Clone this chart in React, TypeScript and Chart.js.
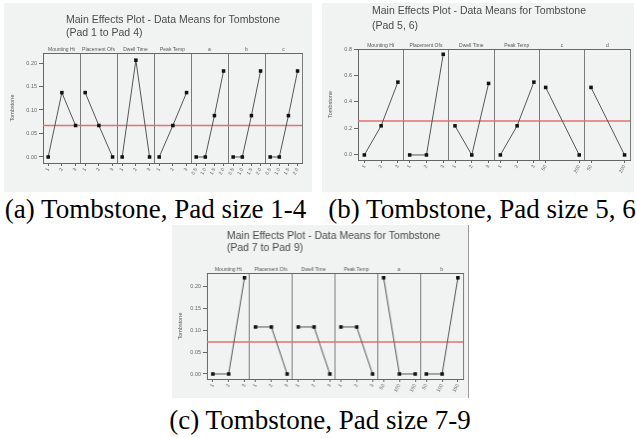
import React, { useEffect, useRef } from "react";
import { Chart, registerables } from "chart.js";

Chart.register(...registerables);

// ---- Pad 1 to Pad 4 ----
const factorsA = ["Mounting Ht", "Placement Ofs", "Dwell Time", "Peak Temp", "a", "b", "c"];
const levelsA = [
  ["1", "2", "3"],
  ["1", "2", "3"],
  ["1", "2", "3"],
  ["1", "2", "3"],
  ["0.5", "1.0", "1.5", "2.0"],
  ["0.5", "1.0", "1.5", "2.0"],
  ["0.5", "1.0", "1.5", "2.0"],
];
const meansA = [
  [0.0, 0.137, 0.067],
  [0.137, 0.067, 0.0],
  [0.0, 0.206, 0.0],
  [0.0, 0.067, 0.137],
  [0.0, 0.0, 0.088, 0.183],
  [0.0, 0.0, 0.088, 0.183],
  [0.0, 0.0, 0.088, 0.183],
];
const grandMeanA = 0.067;
const yTicksA = [0.0, 0.05, 0.1, 0.15, 0.2];

// ---- Pad 5, 6 ----
const factorsB = ["Mounting Ht", "Placement Ofs", "Dwell Time", "Peak Temp", "c", "d"];
const levelsB = [
  ["1", "2", "3"],
  ["1", "2", "3"],
  ["1", "2", "3"],
  ["1", "2", "3"],
  ["50", "200"],
  ["50", "200"],
];
const meansB = [
  [0.0, 0.22, 0.55],
  [0.0, 0.0, 0.76],
  [0.22, 0.0, 0.54],
  [0.0, 0.22, 0.55],
  [0.51, 0.0],
  [0.51, 0.0],
];
const grandMeanB = 0.257;
const yTicksB = [0.0, 0.2, 0.4, 0.6, 0.8];

// ---- Pad 7 to Pad 9 ----
const factorsC = ["Mounting Ht", "Placement Ofs", "Dwell Time", "Peak Temp", "a", "b"];
const levelsC = [
  ["1", "2", "3"],
  ["1", "2", "3"],
  ["1", "2", "3"],
  ["1", "2", "3"],
  ["50", "100", "150"],
  ["50", "100", "150"],
];
const meansC = [
  [0.0, 0.0, 0.221],
  [0.108, 0.108, 0.0],
  [0.108, 0.108, 0.0],
  [0.108, 0.108, 0.0],
  [0.221, 0.0, 0.0],
  [0.0, 0.0, 0.221],
];
const grandMeanC = 0.0736;
const yTicksC = [0.0, 0.05, 0.1, 0.15, 0.2];

const SANS = '"Liberation Sans", Arial, sans-serif';

type PanelProps = {
  factors: string[];
  levels: string[][];
  means: number[][];
  grandMean: number;
  yTicks: number[];
  yDecimals: number;
  yMin: number;
  yMax: number;
  width: number;
  height: number;
  left: number;
  top: number;
  areaLeft: number;
  areaRight: number;
  areaTop: number;
  areaBottom: number;
  title: string[];
  titleX: number;
  titleY: number[];
  rightRule?: boolean;
};

function EffectsPanel(p: PanelProps) {
  const ref = useRef<HTMLCanvasElement>(null);

  useEffect(() => {
    if (!ref.current) return;
    const n = p.factors.length;
    // level j of k inside factor slot i
    const pos = (i: number, j: number, k: number) => i + 0.14 + (k > 1 ? (j * 0.74) / (k - 1) : 0.37);

    const levelTicks: number[] = [];
    const levelLabels: string[] = [];
    p.levels.forEach((lv, i) =>
      lv.forEach((l, j) => {
        levelTicks.push(pos(i, j, lv.length));
        levelLabels.push(l);
      })
    );

    const datasets: any[] = [];
    p.means.forEach((m, i) => {
      datasets.push({
        data: m.map((v, j) => ({ x: pos(i, j, m.length), y: v })),
        borderColor: "#555",
        borderWidth: 1,
        pointStyle: "rect",
        pointRadius: 2.5,
        pointBackgroundColor: "#111",
        pointBorderColor: "#111",
        pointBorderWidth: 0,
      });
    });
    // grand mean reference line
    datasets.push({
      data: [
        { x: 0, y: p.grandMean },
        { x: n, y: p.grandMean },
      ],
      borderColor: "#e27272",
      borderWidth: 1.5,
      pointRadius: 0,
    });

    // plot title and factor names above each strip
    const textPlugin = {
      id: "panelText",
      afterDraw(chart: any) {
        const ctx = chart.ctx;
        const xs = chart.scales.x;
        const area = chart.chartArea;
        ctx.save();
        ctx.fillStyle = "#4a4a4a";
        ctx.font = `10.5px ${SANS}`;
        ctx.textBaseline = "middle";
        ctx.textAlign = "left";
        p.title.forEach((t, i) => ctx.fillText(t, p.titleX, p.titleY[i]));
        ctx.fillStyle = "#555";
        ctx.font = `5px ${SANS}`;
        ctx.textAlign = "center";
        ctx.textBaseline = "bottom";
        p.factors.forEach((f, i) => ctx.fillText(f, xs.getPixelForValue(i + 0.5), area.top - 1));
        ctx.restore();
      },
    };

    const zeroPad = (s: any) => {
      s.paddingLeft = 0;
      s.paddingRight = 0;
      s.paddingTop = 0;
      s.paddingBottom = 0;
    };

    const chart = new Chart(ref.current, {
      type: "line",
      data: { datasets },
      plugins: [textPlugin],
      options: {
        animation: false,
        responsive: false,
        devicePixelRatio: 1,
        layout: {
          padding: {
            left: 0,
            right: p.width - p.areaRight,
            top: p.areaTop - 8,
            bottom: 0,
          },
        },
        plugins: { legend: { display: false }, tooltip: { enabled: false } },
        scales: {
          x: {
            type: "linear",
            position: "bottom",
            min: 0,
            max: n,
            afterBuildTicks: (s: any) => {
              s.ticks = levelTicks.map((v) => ({ value: v }));
            },
            afterFit: (s: any) => {
              s.height = p.height - p.areaBottom;
              zeroPad(s);
            },
            ticks: {
              autoSkip: false,
              minRotation: 60,
              maxRotation: 60,
              padding: 1,
              color: "#666",
              font: { size: 5, family: SANS },
              callback: (_v: any, i: number) => levelLabels[i],
            },
            grid: { drawOnChartArea: false, drawTicks: true, tickLength: 3, color: "#666" },
            border: { display: true, color: "#666", width: 1 },
          },
          xDiv: {
            type: "linear",
            position: "bottom",
            min: 0,
            max: n,
            afterBuildTicks: (s: any) => {
              s.ticks = Array.from({ length: n + 1 }, (_, i) => ({ value: i }));
            },
            afterFit: (s: any) => {
              s.height = 0;
              zeroPad(s);
            },
            ticks: { display: false },
            grid: { drawOnChartArea: true, drawTicks: false, color: "#7a7a7a", lineWidth: 1 },
            border: { display: false },
          },
          xTop: {
            type: "linear",
            position: "top",
            min: 0,
            max: n,
            afterFit: (s: any) => {
              s.height = 8;
              zeroPad(s);
            },
            ticks: { display: false },
            grid: { display: false, drawTicks: false },
            border: { display: true, color: "#666", width: 1 },
          },
          y: {
            type: "linear",
            position: "left",
            min: p.yMin,
            max: p.yMax,
            afterBuildTicks: (s: any) => {
              s.ticks = p.yTicks.map((v) => ({ value: v }));
            },
            afterFit: (s: any) => {
              s.width = p.areaLeft;
              zeroPad(s);
            },
            ticks: {
              padding: 2,
              color: "#666",
              font: { size: 5.5, family: SANS },
              callback: (v: any) => Number(v).toFixed(p.yDecimals),
            },
            grid: { drawOnChartArea: false, drawTicks: true, tickLength: 4, color: "#666" },
            border: { display: true, color: "#666", width: 1 },
            title: {
              display: true,
              text: "Tombstone",
              color: "#555",
              font: { size: 5.5, family: SANS },
              padding: { top: 5, bottom: 2 },
            },
          },
        },
      } as any,
    });
    return () => chart.destroy();
  }, []);

  return (
    <canvas
      ref={ref}
      width={p.width}
      height={p.height}
      style={{
        position: "absolute",
        left: p.left,
        top: p.top,
        width: p.width,
        height: p.height,
        background: "#f1f3f3",
        borderRight: p.rightRule ? "1px solid #9a9a9a" : undefined,
      }}
    />
  );
}

const captionStyle: React.CSSProperties = {
  position: "absolute",
  fontFamily: '"Liberation Serif", "Times New Roman", serif',
  fontSize: 27,
  lineHeight: "27px",
  color: "#000",
  textAlign: "center",
  whiteSpace: "nowrap",
};

export default function App() {
  return (
    <div style={{ position: "fixed", left: 0, top: 0, width: 636, height: 438, background: "#fff", overflow: "hidden" }}>
      <EffectsPanel
        factors={factorsA}
        levels={levelsA}
        means={meansA}
        grandMean={grandMeanA}
        yTicks={yTicksA}
        yDecimals={2}
        yMin={-0.0128}
        yMax={0.2213}
        left={4}
        top={3}
        width={308}
        height={189}
        areaLeft={39}
        areaRight={298}
        areaTop={50}
        areaBottom={160}
        title={["Main Effects Plot - Data Means for Tombstone", "(Pad 1 to Pad 4)"]}
        titleX={62}
        titleY={[17, 30]}
      />
      <EffectsPanel
        factors={factorsB}
        levels={levelsB}
        means={meansB}
        grandMean={grandMeanB}
        yTicks={yTicksB}
        yDecimals={1}
        yMin={-0.038}
        yMax={0.8}
        left={322}
        top={3}
        width={312}
        height={189}
        areaLeft={36}
        areaRight={308}
        areaTop={46}
        areaBottom={157}
        title={["Main Effects Plot - Data Means for Tombstone", "(Pad 5, 6)"]}
        titleX={50}
        titleY={[8, 23]}
      />
      <EffectsPanel
        factors={factorsC}
        levels={levelsC}
        means={meansC}
        grandMean={grandMeanC}
        yTicks={yTicksC}
        yDecimals={2}
        yMin={-0.0115}
        yMax={0.232}
        left={172}
        top={225}
        width={297}
        height={173}
        areaLeft={35}
        areaRight={292}
        areaTop={48}
        areaBottom={154}
        title={["Main Effects Plot - Data Means for Tombstone", "(Pad 7 to Pad 9)"]}
        titleX={55}
        titleY={[11, 23]}
        rightRule
      />
      <div style={{ ...captionStyle, left: 0, top: 196, width: 311 }}>(a) Tombstone, Pad size 1-4</div>
      <div style={{ ...captionStyle, left: 328, top: 196, width: 308 }}>(b) Tombstone, Pad size 5, 6</div>
      <div style={{ ...captionStyle, left: 168, top: 407, width: 304 }}>(c) Tombstone, Pad size 7-9</div>
    </div>
  );
}
